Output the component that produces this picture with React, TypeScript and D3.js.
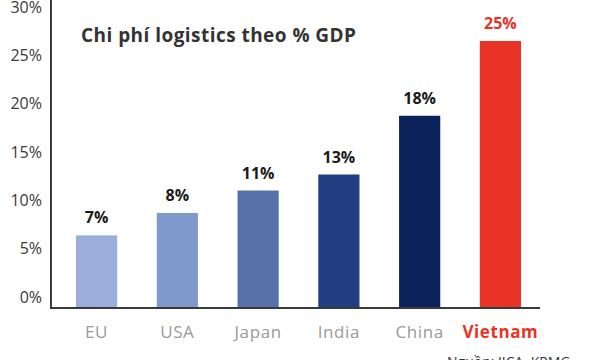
import React, { useEffect, useRef } from "react";
import * as d3 from "d3";

const categories = ["EU", "USA", "Japan", "India", "China", "Vietnam"];
// bar heights as drawn in the picture (the printed labels are rounded)
const barValues = [6.8, 8.9, 11, 12.5, 18, 25];
const valueLabels = ["7%", "8%", "11%", "13%", "18%", "25%"];
const barColors = ["#9aaddb", "#8099cb", "#5670a8", "#213f80", "#0c225a", "#e83326"];
const yTicks = [0, 5, 10, 15, 20, 25, 30];

const width = 600;
const height = 360;
const font = "'Open Sans', 'Noto Sans', sans-serif";

const App: React.FC = () => {
  const svgRef = useRef<SVGSVGElement | null>(null);

  useEffect(() => {
    if (!svgRef.current) return;
    const svg = d3.select(svgRef.current);
    svg.selectAll("*").remove();

    const axisX = 51;
    const baseY = 308;

    const x = d3
      .scaleBand<string>()
      .domain(categories)
      .range([36.4, 560.6])
      .padding(0.49);

    // bars sit on the axis line, tick labels are slightly offset (as in the source image)
    const yBar = d3.scaleLinear().domain([0, 25]).range([baseY, 41]);
    const yAxis = d3.scaleLinear().domain([0, 30]).range([297, 7]);

    // tick labels
    svg
      .append("g")
      .selectAll("text")
      .data(yTicks)
      .join("text")
      .attr("x", 42)
      .attr("y", (d) => yAxis(d))
      .attr("dy", "0.35em")
      .attr("text-anchor", "end")
      .attr("font-family", font)
      .attr("font-size", 16)
      .attr("fill", "#3a3a3a")
      .text((d) => `${d}%`);

    // bars
    svg
      .append("g")
      .selectAll("rect")
      .data(barValues)
      .join("rect")
      .attr("x", (_, i) => x(categories[i])!)
      .attr("width", x.bandwidth())
      .attr("y", (d) => yBar(d))
      .attr("height", (d) => baseY - yBar(d))
      .attr("fill", (_, i) => barColors[i]);

    // value labels
    svg
      .append("g")
      .selectAll("text")
      .data(barValues)
      .join("text")
      .attr("x", (_, i) => x(categories[i])! + x.bandwidth() / 2)
      .attr("y", (d) => yBar(d) - 12)
      .attr("text-anchor", "middle")
      .attr("font-family", font)
      .attr("font-weight", 700)
      .attr("font-size", 16)
      .attr("fill", (_, i) => (i === categories.length - 1 ? "#e83326" : "#1a1a1a"))
      .text((_, i) => valueLabels[i]);

    // category labels
    svg
      .append("g")
      .selectAll("text")
      .data(categories)
      .join("text")
      .attr("x", (d) => x(d)! + x.bandwidth() / 2)
      .attr("y", 338)
      .attr("text-anchor", "middle")
      .attr("font-family", font)
      .attr("font-size", 17)
      .attr("letter-spacing", 0.6)
      .attr("font-weight", (d) => (d === "Vietnam" ? 700 : 400))
      .attr("fill", (d) => (d === "Vietnam" ? "#e83326" : "#9a9a9a"))
      .text((d) => d);

    // axis lines
    svg
      .append("path")
      .attr("d", `M${axisX},0V${baseY}H540`)
      .attr("fill", "none")
      .attr("stroke", "#3a3a3a")
      .attr("stroke-width", 2);

    // title
    svg
      .append("text")
      .attr("x", 81)
      .attr("y", 42)
      .attr("font-family", font)
      .attr("font-weight", 700)
      .attr("font-size", 19)
      .attr("textLength", 275)
      .attr("lengthAdjust", "spacing")
      .attr("fill", "#333")
      .text("Chi phí logistics theo % GDP");

    // source (cut off at the bottom edge, as in the reference)
    svg
      .append("text")
      .attr("x", 447)
      .attr("y", 367)
      .attr("font-family", font)
      .attr("font-size", 14)
      .attr("fill", "#333")
      .text("Nguồn: JICA, KPMG");
  }, []);

  return (
    <svg
      ref={svgRef}
      width={width}
      height={height}
      style={{ position: "absolute", left: 0, top: 0 }}
    ></svg>
  );
};

export default App;
